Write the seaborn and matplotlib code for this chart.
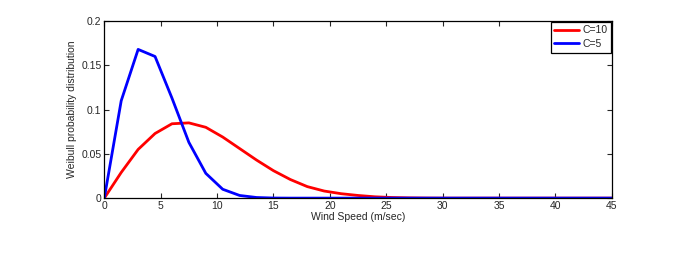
import matplotlib
matplotlib.use("Agg")
import matplotlib.pyplot as plt
import seaborn as sns
import pandas as pd

# wind speed samples (m/s), every 1.5
wind_speed = [0, 1.5, 3, 4.5, 6, 7.5, 9, 10.5, 12, 13.5, 15, 16.5, 18, 19.5, 21, 22.5,
              24, 25.5, 27, 28.5, 30, 31.5, 33, 34.5, 36, 37.5, 39, 40.5, 42, 43.5, 45]

pdf_c10 = [0, 0.029, 0.055, 0.073, 0.084, 0.085, 0.080, 0.069, 0.056, 0.043, 0.031,
           0.021, 0.013, 0.008, 0.005, 0.003, 0.0015, 0.0007, 0.0003, 0.0001, 0,
           0, 0, 0, 0, 0, 0, 0, 0, 0, 0]
pdf_c5 = [0, 0.110, 0.168, 0.160, 0.113, 0.063, 0.028, 0.010, 0.003, 0.0007, 0.0001,
          0, 0, 0, 0, 0, 0, 0, 0, 0, 0, 0, 0, 0, 0, 0, 0, 0, 0, 0, 0]

series_labels = ["C=10", "C=5"]
series_colors = ["#ff0000", "#0000ff"]

df = pd.DataFrame({
    "speed": wind_speed * 2,
    "pdf": pdf_c10 + pdf_c5,
    "series": [series_labels[0]] * len(wind_speed) + [series_labels[1]] * len(wind_speed),
})

sns.set_style("ticks")
plt.rcParams["font.family"] = ["Liberation Sans", "DejaVu Sans"]
plt.rcParams["font.size"] = 7.5
plt.rcParams["xtick.direction"] = "in"
plt.rcParams["ytick.direction"] = "in"

fig = plt.figure(figsize=(7, 2.54), dpi=100)
ax = fig.add_axes([0.149, 0.220, 0.725, 0.697])

sns.lineplot(data=df, x="speed", y="pdf", hue="series", hue_order=series_labels,
             palette=series_colors, linewidth=2, ax=ax, estimator=None, sort=False)

ax.set_xlim(0, 45)
ax.set_ylim(0, 0.2)
ax.set_xticks(range(0, 46, 5))
ax.set_yticks([0, 0.05, 0.1, 0.15, 0.2])
ax.set_yticklabels(["0", "0.05", "0.1", "0.15", "0.2"])
ax.set_xlabel("Wind Speed (m/sec)", labelpad=1)
ax.set_ylabel("Weibull probability distribution", labelpad=3)
ax.tick_params(top=True, right=True, length=3.5, width=0.8, pad=2, labelsize=7.5)
for s in ax.spines.values():
    s.set_linewidth(0.9)
    s.set_color("black")

leg = ax.legend(loc="upper right", fancybox=False, edgecolor="black", framealpha=1,
                borderaxespad=0.05, handlelength=2.4, borderpad=0.35, labelspacing=0.35,
                handletextpad=0.3, fontsize=7.5)
leg.get_frame().set_linewidth(0.9)

fig.savefig("out.png", dpi=100)
